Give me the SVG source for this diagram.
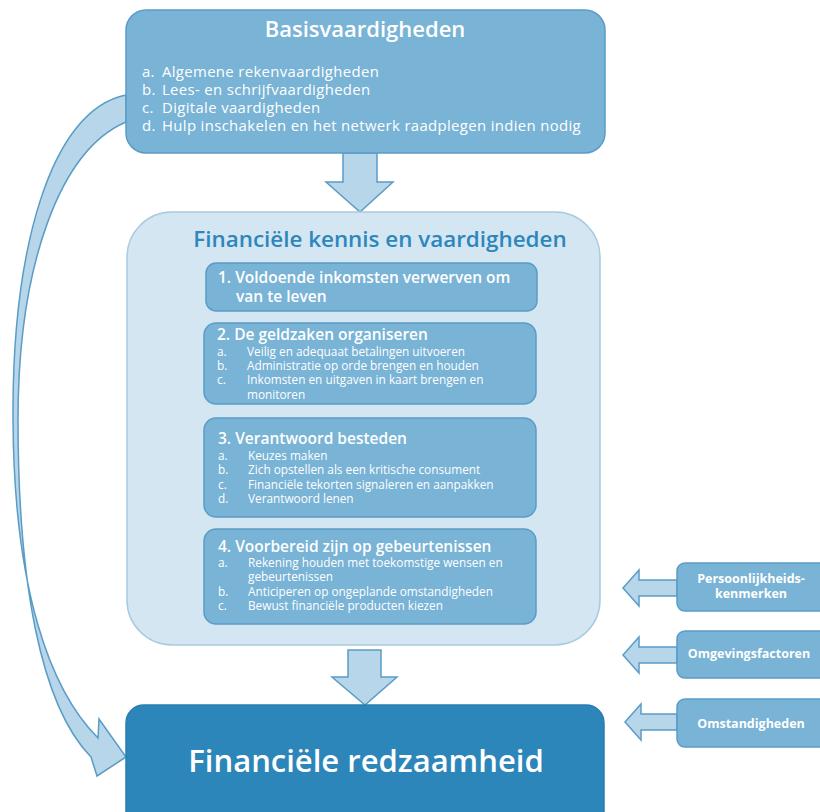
<svg xmlns="http://www.w3.org/2000/svg" width="820" height="812" viewBox="0 0 820 812">
<style>
text{font-family:"Open Sans","Liberation Sans",sans-serif;fill:#ffffff}
.box{fill:#79b3d6;stroke:#5a9cc6;stroke-width:1.5}
.arrow{fill:#b8d6ea;stroke:#5a9cc6;stroke-width:1.5;stroke-linejoin:miter}
.h1{font-size:22px;font-weight:600}
.li{font-size:14.9px;letter-spacing:0.35px}
.bt{font-size:15.5px;font-weight:600}
.sub{font-size:11.8px}
.side{font-size:12.5px;font-weight:700}
</style>
<rect width="820" height="812" fill="#ffffff"/>
<g id="connectors">
<path class="arrow" d="M126,95 C50,110 12,250 13,420 C14,590 50,690 98,738 L99,719 L126,757 L97,776 L91,757 C40,705 18,580 18,420 C18,265 60,150 126,122 Z"/>
<path class="arrow" d="M343,153 L377,153 L377,182 L393,182 L360,212 L326,182 L343,182 Z"/>
<path class="arrow" d="M348,650 L381,650 L381,677 L397,677 L365,705 L332,677 L348,677 Z"/>
<path class="arrow" d="M677,580 L639,580 L639,570 L623,588 L639,606 L639,596 L677,596 Z"/>
<path class="arrow" d="M677,647 L639,647 L639,637 L623,655 L639,673 L639,663 L677,663 Z"/>
<path class="arrow" d="M677,714 L641,714 L641,704 L625,722 L641,740 L641,730 L677,730 Z"/>
</g>
<g id="basisvaardigheden">
<rect class="box" x="126" y="10" width="479" height="143" rx="20"/>
<text class="h1" x="365" y="37" text-anchor="middle">Basisvaardigheden</text>
<text class="li" x="142" y="77">a.</text><text class="li" x="162" y="77">Algemene rekenvaardigheden</text>
<text class="li" x="142" y="95">b.</text><text class="li" x="162" y="95">Lees- en schrijfvaardigheden</text>
<text class="li" x="142" y="113">c.</text><text class="li" x="162" y="113">Digitale vaardigheden</text>
<text class="li" x="142" y="131">d.</text><text class="li" x="162" y="131">Hulp inschakelen en het netwerk raadplegen indien nodig</text>
</g>
<g id="financiele-kennis">
<rect x="127" y="212" width="473" height="433" rx="45" fill="#d4e6f2" stroke="#a8cae0" stroke-width="1.5"/>
<text x="380" y="247" text-anchor="middle" font-size="22.4" font-weight="600" style="fill:#2d87bc">Financiële kennis en vaardigheden</text>
</g>
<g id="box1">
<rect class="box" x="206" y="263" width="331" height="48" rx="10"/>
<text class="bt" x="218" y="283">1. Voldoende inkomsten verwerven om</text>
<text class="bt" x="236" y="302">van te leven</text>
</g>
<g id="box2">
<rect class="box" x="204" y="323" width="332" height="81" rx="12"/>
<text class="bt" x="217" y="340" font-size="16.8">2. De geldzaken organiseren</text>
<text class="sub" x="217" y="356">a.</text><text class="sub" x="247" y="356">Veilig en adequaat betalingen uitvoeren</text>
<text class="sub" x="217" y="370">b.</text><text class="sub" x="247" y="370">Administratie op orde brengen en houden</text>
<text class="sub" x="217" y="384">c.</text><text class="sub" x="247" y="384">Inkomsten en uitgaven in kaart brengen en</text>
<text class="sub" x="247" y="399">monitoren</text>
</g>
<g id="box3">
<rect class="box" x="204" y="418" width="332" height="99" rx="12"/>
<text class="bt" x="218" y="444" font-size="16.8">3. Verantwoord besteden</text>
<text class="sub" x="218" y="460">a.</text><text class="sub" x="248" y="460">Keuzes maken</text>
<text class="sub" x="218" y="474">b.</text><text class="sub" x="248" y="474">Zich opstellen als een kritische consument</text>
<text class="sub" x="218" y="489">c.</text><text class="sub" x="248" y="489">Financiële tekorten signaleren en aanpakken</text>
<text class="sub" x="218" y="503">d.</text><text class="sub" x="248" y="503">Verantwoord lenen</text>
</g>
<g id="box4">
<rect class="box" x="204" y="529" width="332" height="95" rx="12"/>
<text class="bt" x="218" y="552" font-size="16.8">4. Voorbereid zijn op gebeurtenissen</text>
<text class="sub" x="218" y="567">a.</text><text class="sub" x="248" y="567">Rekening houden met toekomstige wensen en</text>
<text class="sub" x="248" y="581">gebeurtenissen</text>
<text class="sub" x="218" y="596">b.</text><text class="sub" x="248" y="596">Anticiperen op ongeplande omstandigheden</text>
<text class="sub" x="218" y="610">c.</text><text class="sub" x="248" y="610">Bewust financiële producten kiezen</text>
</g>
<g id="financiele-redzaamheid">
<rect x="126" y="705" width="478" height="130" rx="18" fill="#2d86b9" stroke="#2a7db0" stroke-width="1.5"/>
<text x="366" y="772" text-anchor="middle" font-size="31" font-weight="600">Financiële redzaamheid</text>
</g>
<g id="persoonlijkheidskenmerken">
<rect class="box" x="677" y="563" width="160" height="48" rx="8"/>
<text class="side" x="751" y="583" text-anchor="middle">Persoonlijkheids-</text>
<text class="side" x="751" y="598" text-anchor="middle">kenmerken</text>
</g>
<g id="omgevingsfactoren">
<rect class="box" x="677" y="631" width="160" height="47" rx="8"/>
<text class="side" x="749" y="658" text-anchor="middle" font-size="13.2">Omgevingsfactoren</text>
</g>
<g id="omstandigheden">
<rect class="box" x="677" y="699" width="160" height="48" rx="8"/>
<text class="side" x="751" y="728" text-anchor="middle">Omstandigheden</text>
</g>
</svg>
